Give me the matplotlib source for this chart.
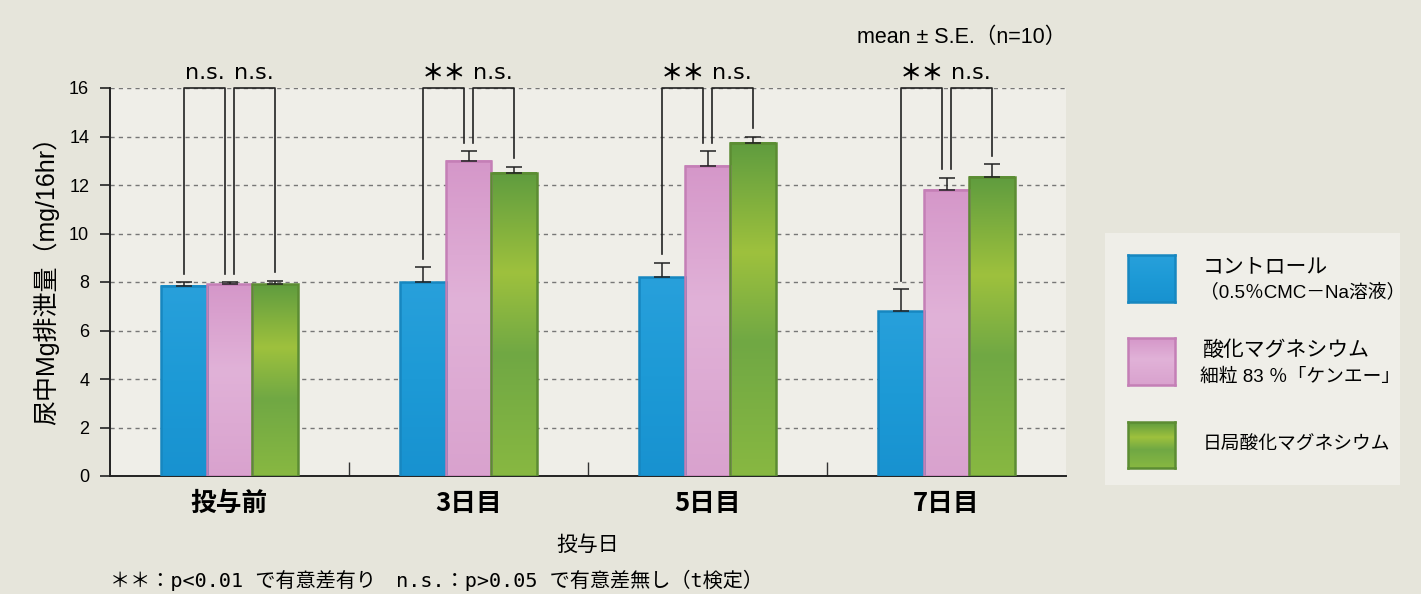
import matplotlib
matplotlib.use("Agg")
import matplotlib.pyplot as plt
import numpy as np
from matplotlib.patches import Rectangle
from matplotlib.colors import LinearSegmentedColormap

plt.rcParams['font.family'] = ['Noto Sans CJK JP', 'DejaVu Sans']

# ---- data ----
categories = ["投与前", "3日目", "5日目", "7日目"]
series_names = ["コントロール\n（0.5％CMC－Na溶液）", "酸化マグネシウム\n細粒 83 ％「ケンエー」", "日局酸化マグネシウム"]
control = [7.85, 8.0, 8.2, 6.8]
control_se = [0.15, 0.6, 0.6, 0.9]
kenei = [7.9, 13.0, 12.8, 11.8]
kenei_se = [0.1, 0.4, 0.6, 0.5]
jp = [7.9, 12.5, 13.75, 12.35]
jp_se = [0.15, 0.25, 0.25, 0.5]
sig_left = ["n.s.", "＊＊", "＊＊", "＊＊"]
sig_right = ["n.s.", "n.s.", "n.s.", "n.s."]
yticks = [0, 2, 4, 6, 8, 10, 12, 14, 16]

W, H = 1421, 594
fig = plt.figure(figsize=(W / 100, H / 100), dpi=100)
fig.patch.set_facecolor("#e6e5db")

def px(x0, y0, x1, y1):
    return [x0 / W, 1 - y1 / H, (x1 - x0) / W, (y1 - y0) / H]

ax = fig.add_axes(px(110, 88, 1066, 476))
ax.set_facecolor("#efeee8")

n = len(categories)
x = np.arange(n) + 0.5
off = 0.19
bw = 0.19
colors = ["#1f9bd7", "#dba6d2", "#86b43e"]
edges = ["#1787c0", "#c47fb6", "#5c8c33"]
grad_stops = [
    [(0, "#28a0db"), (0.5, "#1d9ad6"), (1, "#1892d0")],
    [(0, "#d597c9"), (0.45, "#e1b2d8"), (1, "#d9a2ce")],
    [(0, "#5f9c3f"), (0.33, "#9ec13d"), (0.6, "#70a844"), (1, "#88b841")],
]
cmaps = [LinearSegmentedColormap.from_list(f"g{k}", s) for k, s in enumerate(grad_stops)]
vals = [control, kenei, jp]
ses = [control_se, kenei_se, jp_se]
grad = np.linspace(0, 1, 256).reshape(-1, 1)
for k in range(3):
    xs = x + (k - 1) * off
    bars = ax.bar(xs, vals[k], width=bw, color=colors[k], edgecolor=edges[k], linewidth=1.8, zorder=3)
    for p in bars:
        bb = p.get_bbox()
        ax.imshow(grad, cmap=cmaps[k], extent=[bb.x0, bb.x1, bb.y0, bb.y1], origin='upper',
                  aspect='auto', zorder=2.9, interpolation='bilinear')
        p.set_facecolor('none')
    ax.errorbar(xs, vals[k], yerr=[np.zeros(n), ses[k]], fmt='none', ecolor='#222222',
                elinewidth=1.1, capsize=6, capthick=1.1, zorder=4)

ax.set_xlim(0, n)
ax.set_ylim(0, 16)
ax.set_yticks(yticks)
ax.set_yticklabels([str(v) for v in yticks], fontfamily='Liberation Sans', fontsize=13)
ax.yaxis.grid(True, linestyle=(0, (3, 3)), color='#777777', linewidth=1, zorder=1)
ax.set_axisbelow(True)
ax.tick_params(axis='y', direction='out', length=7, width=1.2, color='#222222', pad=8)
ax.set_xticks(x)
ax.set_xticklabels(categories, fontsize=18.5, fontweight='bold')
ax.tick_params(axis='x', length=0, pad=10)
ax.set_xticks(np.arange(1, n), minor=True)
ax.tick_params(axis='x', which='minor', direction='in', length=10, width=1, color='#333333')
for s in ['top', 'right']:
    ax.spines[s].set_visible(False)
for s in ['left', 'bottom']:
    ax.spines[s].set_linewidth(1.4)
    ax.spines[s].set_color('#222222')

ax.set_ylabel("尿中Mg排泄量（mg/16hr）", fontsize=18, labelpad=4,
              fontfamily=['Liberation Sans', 'Noto Sans CJK JP'])
ax.yaxis.set_label_coords(-0.053, 0.52)
ax.set_xlabel("投与日", fontsize=15, labelpad=12)

# significance brackets
d = 0.017
gap = 0.35
for i in range(n):
    xb = x[i] - off
    xp = x[i]
    xg = x[i] + off
    yb = control[i] + control_se[i] + gap
    yp = kenei[i] + kenei_se[i] + gap
    yg = jp[i] + jp_se[i] + gap
    ax.plot([xb, xb, xp - d, xp - d], [yb, 16, 16, yp], color='#222222', lw=1.2, zorder=5, clip_on=False)
    ax.plot([xp + d, xp + d, xg, xg], [yp, 16, 16, yg], color='#222222', lw=1.2, zorder=5, clip_on=False)
    is_ns = sig_left[i] == "n.s."
    ax.text((xb + xp - d) / 2, 16.62, sig_left[i], ha='center', va='center', fontsize=16,
            fontfamily=['DejaVu Sans'] if is_ns else ['Noto Sans CJK JP'],
            fontweight='normal' if is_ns else 'bold', clip_on=False)
    ax.text((xp + d + xg) / 2, 16.62, sig_right[i], ha='center', va='center', fontsize=16,
            fontfamily=['DejaVu Sans'], clip_on=False)

fig.text(1066 / W, 1 - 37 / H, "mean ± S.E.（n=10）", ha='right', va='center', fontsize=15.5,
         fontfamily=['Liberation Sans', 'Noto Sans CJK JP'])
fig.text(110 / W, 1 - 580 / H, "＊＊：p<0.01 で有意差有り　n.s.：p>0.05 で有意差無し（t検定）",
         ha='left', va='center', fontsize=14.5,
         fontfamily=['DejaVu Sans Mono', 'Noto Sans CJK JP'])

# legend
fig.patches.append(Rectangle((1105 / W, 1 - 485 / H), 295 / W, 252 / H, transform=fig.transFigure,
                             facecolor="#efeee8", edgecolor='none', zorder=-5))
patch_y = [(255, 302), (338, 385), (422, 468)]
text_y = [(267, 292), (350, 377), (445, None)]
text_sizes = [(15, 13.5), (15, 13.5), (13.5, None)]
for k in range(3):
    y0, y1 = patch_y[k]
    lax = fig.add_axes(px(1128, y0, 1175, y1))
    lax.set_zorder(5)
    lax.imshow(grad, cmap=cmaps[k], aspect='auto', extent=[0, 1, 0, 1], interpolation='bilinear')
    lax.set_xticks([]); lax.set_yticks([])
    for s in lax.spines.values():
        s.set_color(edges[k]); s.set_linewidth(1.8)
    lines = series_names[k].split("\n")
    for j, line in enumerate(lines):
        ty = text_y[k][j]
        fig.text((1203 if j == 0 else 1200) / W, 1 - ty / H, line, ha='left', va='center',
                 fontsize=text_sizes[k][j],
                 fontfamily=['Liberation Sans', 'Noto Sans CJK JP'], zorder=6)

fig.savefig("out.png", dpi=100, facecolor=fig.get_facecolor())
